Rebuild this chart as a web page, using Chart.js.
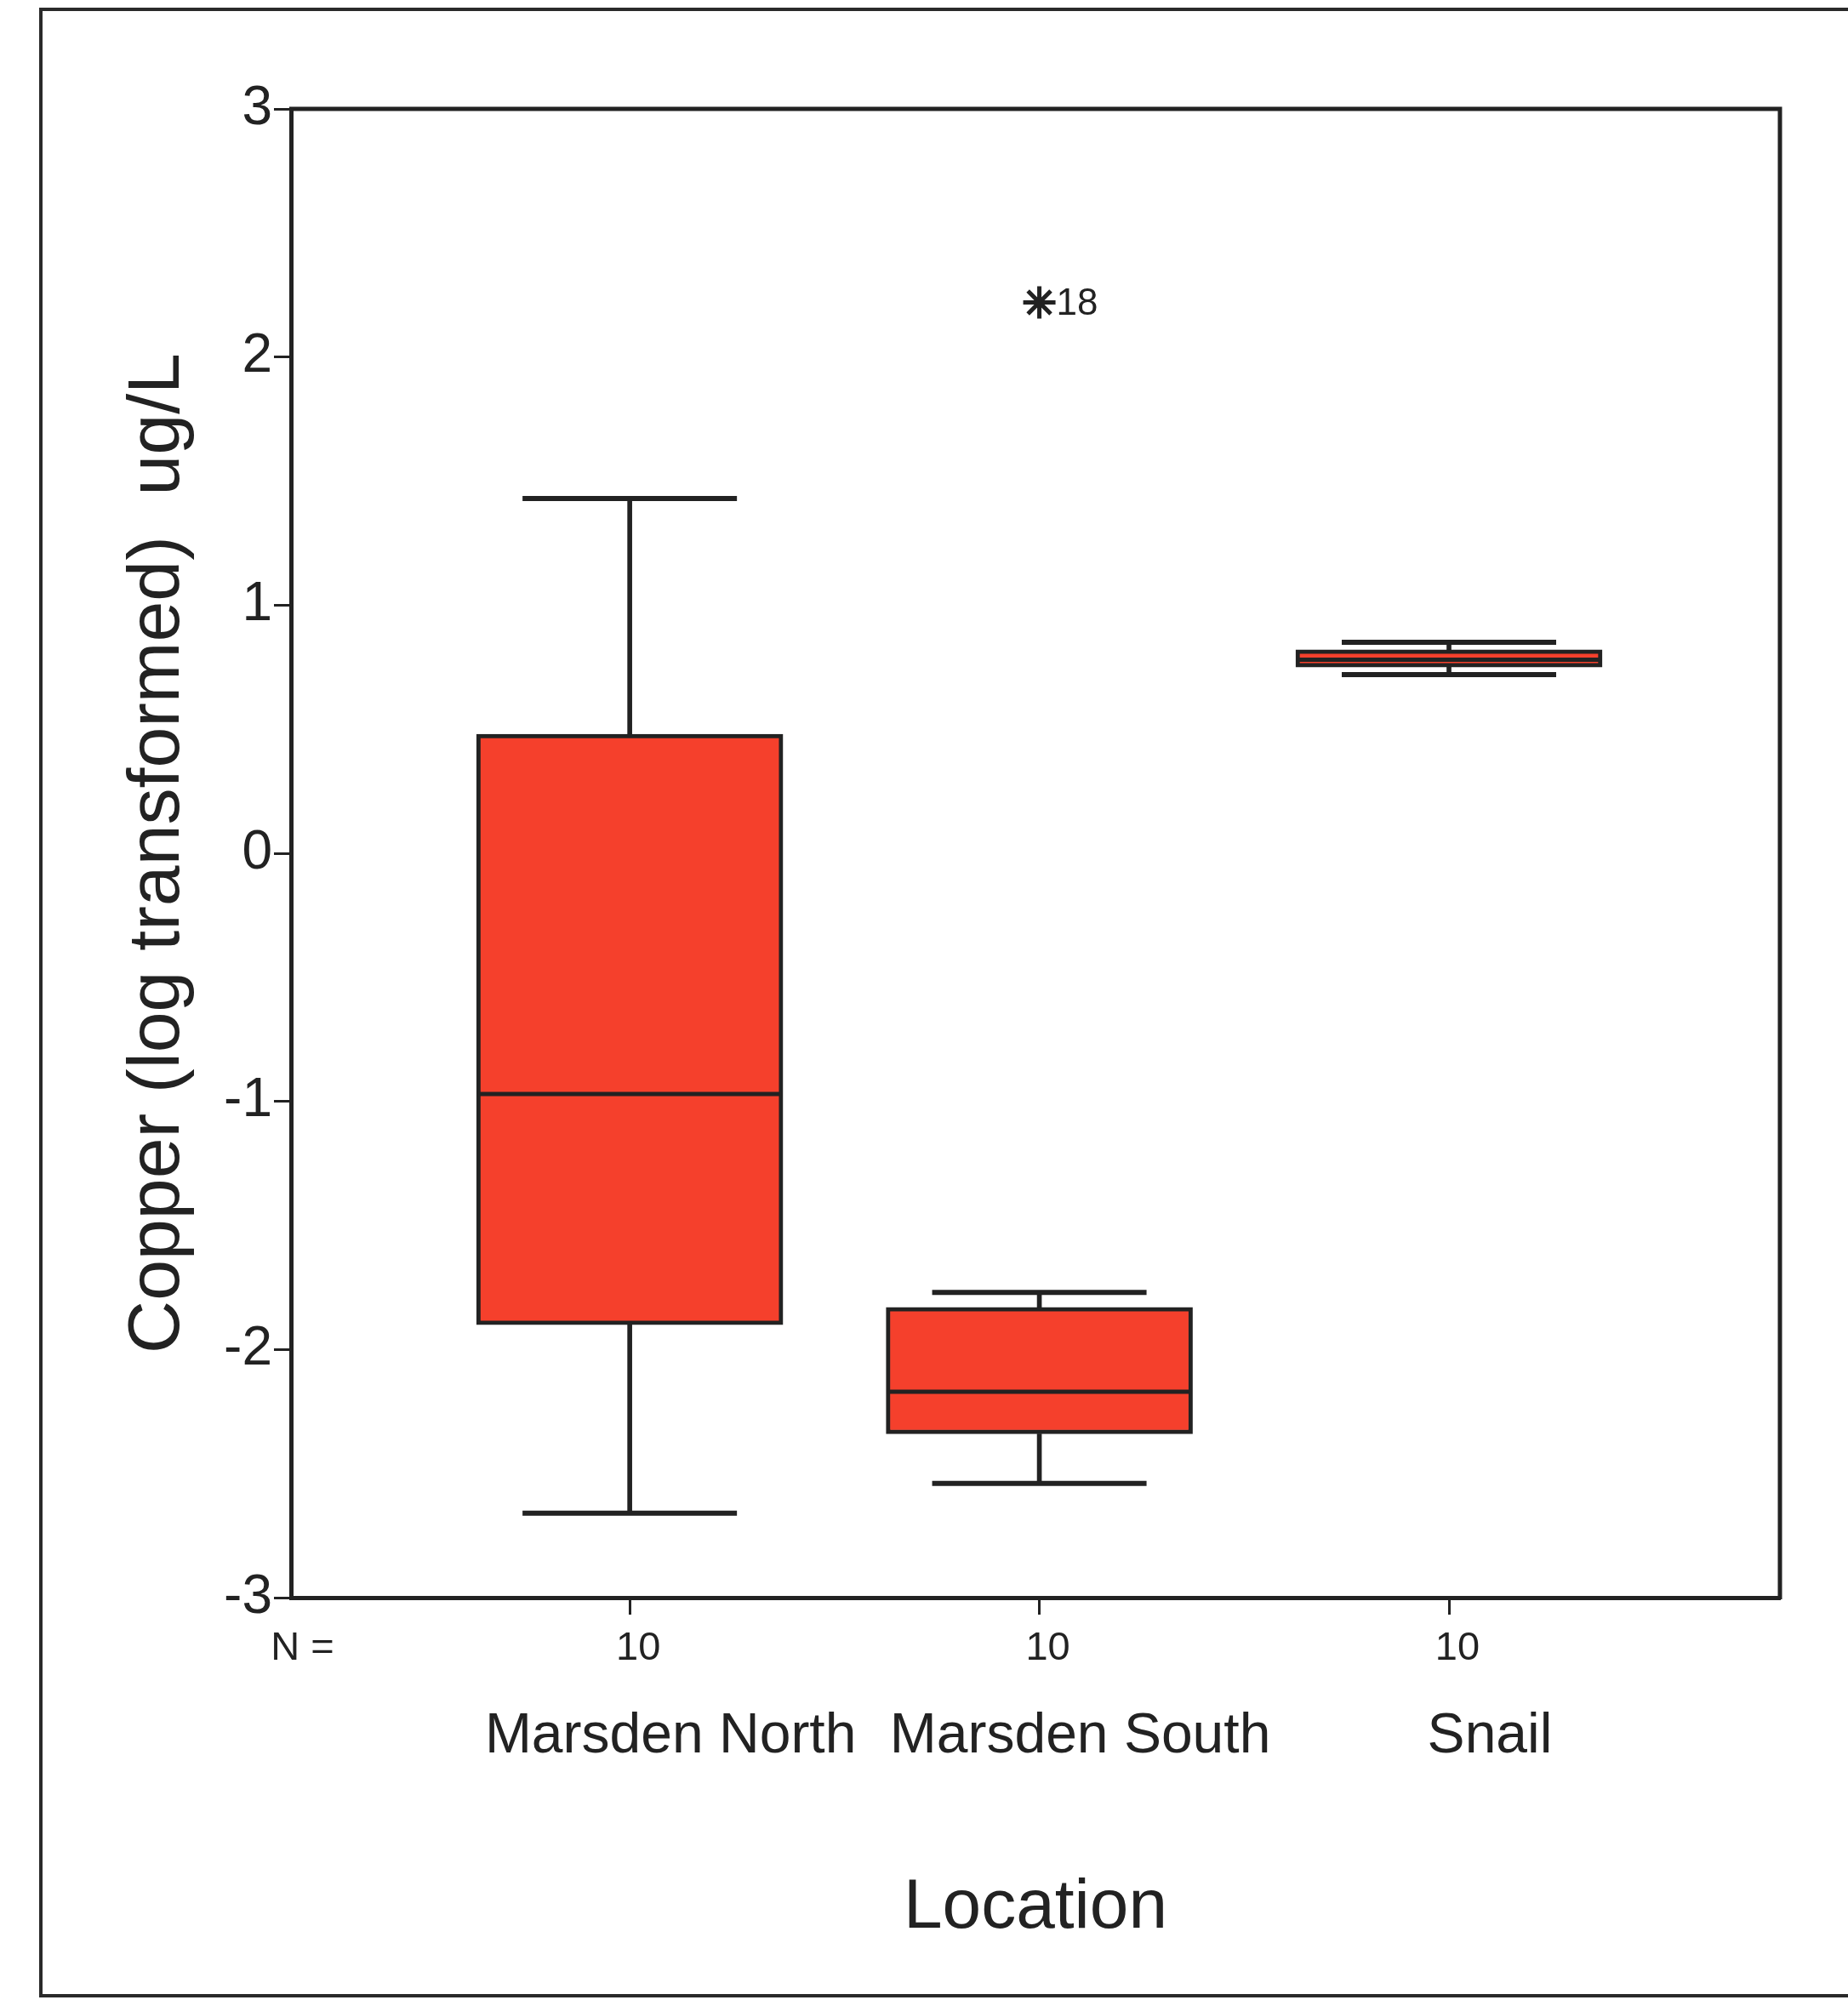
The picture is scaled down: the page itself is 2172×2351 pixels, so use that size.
<!DOCTYPE html>
<html>
<head>
<meta charset="utf-8">
<script src="https://cdn.jsdelivr.net/npm/chart.js@4.4.1/dist/chart.umd.min.js"></script>
<style>
  html, body { margin: 0; padding: 0; background: #ffffff; overflow: hidden; }
  #wrap { position: relative; width: 2172px; height: 2351px; }
  #frame { position: absolute; left: 46px; top: 9px; width: 2200px; height: 2339px; border: 4px solid #2a2a2a; box-sizing: border-box; }
  #chartBox { position: absolute; left: 0; top: 0; width: 2172px; height: 2351px; }
</style>
</head>
<body>
<div id="wrap">
  <div id="frame"></div>
  <div id="chartBox"><canvas id="c"></canvas></div>
</div>
<script>
// ---- Data ----
const categories = ['Marsden North', 'Marsden South', 'Snail'];
const nCounts = [10, 10, 10];
const whiskerMax = [1.43, -1.77, 0.85];
const q3Values = [0.48, -1.83, 0.82];
const medianValues = [-0.97, -2.17, 0.78];
const q1Values = [-1.90, -2.34, 0.75];
const whiskerMin = [-2.66, -2.54, 0.72];
const outlierCategory = [1];
const outlierValues = [2.22];
const outlierLabels = ['18'];
const yTickValues = [-3, -2, -1, 0, 1, 2, 3];

// ---- Styling ----
const INK = '#222222';
const FILL = 'rgb(245, 64, 44)';
const FONT = "'Liberation Sans', Arial, sans-serif";
const X_MIN = -0.827, X_MAX = 2.808;
const N_LABEL_POS = -0.82;
const BOX_WIDTH_PX = 360;

const idx = categories.map((_, i) => i);

const boxData = idx.map(i => ({ x: i, y: [q1Values[i], q3Values[i]] }));
const upperWhisker = idx.map(i => ({ x: i, y: [q3Values[i], whiskerMax[i]] }));
const lowerWhisker = idx.map(i => ({ x: i, y: [whiskerMin[i], q1Values[i]] }));
const capData = idx.flatMap(i => [{ x: i, y: whiskerMax[i] }, { x: i, y: whiskerMin[i] }]);
const medianData = idx.map(i => ({ x: i, y: medianValues[i] }));
const outlierData = outlierCategory.map((c, k) => ({ x: c, y: outlierValues[k] }));

// top and right edges of the plot frame
const plotFramePlugin = {
  id: 'plotFrame',
  afterDraw(chart) {
    const { ctx, chartArea: a } = chart;
    ctx.save();
    ctx.strokeStyle = INK;
    ctx.lineWidth = 5;
    ctx.beginPath();
    ctx.moveTo(a.left - 2, a.top);
    ctx.lineTo(a.right, a.top);
    ctx.lineTo(a.right, a.bottom + 2);
    ctx.stroke();
    ctx.restore();
  }
};

const outlierLabelPlugin = {
  id: 'outlierLabel',
  afterDatasetsDraw(chart) {
    const dsIndex = chart.data.datasets.findIndex(d => d.label === 'Outliers');
    if (dsIndex < 0) return;
    const meta = chart.getDatasetMeta(dsIndex);
    const ctx = chart.ctx;
    ctx.save();
    ctx.fillStyle = INK;
    ctx.font = '44px ' + FONT;
    ctx.textAlign = 'left';
    ctx.textBaseline = 'middle';
    meta.data.forEach((pt, k) => {
      ctx.fillText(outlierLabels[k], pt.x + 20, pt.y + 2);
    });
    ctx.restore();
  }
};

new Chart(document.getElementById('c'), {
  type: 'bar',
  data: {
    datasets: [
      {
        label: 'Box',
        data: boxData,
        backgroundColor: FILL,
        borderColor: INK,
        borderWidth: 5,
        borderSkipped: false,
        barThickness: BOX_WIDTH_PX,
        grouped: false,
        order: 2
      },
      {
        label: 'Upper whisker',
        data: upperWhisker,
        backgroundColor: INK,
        borderWidth: 0,
        barThickness: 5,
        grouped: false,
        order: 3
      },
      {
        label: 'Lower whisker',
        data: lowerWhisker,
        backgroundColor: INK,
        borderWidth: 0,
        barThickness: 5,
        grouped: false,
        order: 3
      },
      {
        type: 'scatter',
        label: 'Caps',
        data: capData,
        pointStyle: 'line',
        pointRadius: 126,
        pointHoverRadius: 126,
        borderColor: INK,
        borderWidth: 6,
        order: 1
      },
      {
        type: 'scatter',
        label: 'Median',
        data: medianData,
        pointStyle: 'line',
        pointRadius: BOX_WIDTH_PX / 2 - 1,
        pointHoverRadius: BOX_WIDTH_PX / 2 - 1,
        borderColor: INK,
        borderWidth: 5,
        order: 0
      },
      {
        type: 'scatter',
        label: 'Outliers',
        data: outlierData,
        pointStyle: 'star',
        pointRadius: 19,
        pointHoverRadius: 19,
        borderColor: INK,
        backgroundColor: INK,
        borderWidth: 5,
        order: 0
      }
    ]
  },
  options: {
    responsive: true,
    maintainAspectRatio: false,
    animation: false,
    events: [],
    layout: { autoPadding: false, padding: { left: 80, top: 128, right: 80, bottom: 0 } },
    plugins: { legend: { display: false }, tooltip: { enabled: false } },
    scales: {
      x: {
        type: 'linear',
        position: 'bottom',
        min: X_MIN,
        max: X_MAX,
        offset: false,
        weight: 0,
        afterBuildTicks: (scale) => {
          scale.ticks = [{ value: N_LABEL_POS }].concat(idx.map(i => ({ value: i })));
        },
        afterFit: (scale) => { scale.height = 100; },
        grid: {
          display: true,
          offset: false,
          drawOnChartArea: false,
          drawTicks: true,
          tickLength: 20,
          tickWidth: 3,
          tickColor: (ctx) => (ctx.tick && ctx.tick.value < 0) ? 'rgba(0,0,0,0)' : INK
        },
        border: { display: true, color: INK, width: 5 },
        ticks: {
          autoSkip: false,
          maxRotation: 0,
          padding: 12,
          labelOffset: 10,
          color: INK,
          font: { family: FONT, size: 47 },
          callback: (value) => value < 0 ? 'N =' : String(nCounts[Math.round(value)])
        }
      },
      xn: {
        type: 'linear',
        position: 'bottom',
        min: X_MIN,
        max: X_MAX,
        offset: false,
        weight: 1,
        afterBuildTicks: (scale) => {
          scale.ticks = idx.map(i => ({ value: i }));
        },
        afterFit: (scale) => { scale.height = 373; },
        grid: { display: false, offset: false },
        border: { display: false },
        ticks: {
          autoSkip: false,
          maxRotation: 0,
          padding: 16,
          labelOffset: 48,
          color: INK,
          font: { family: FONT, size: 66 },
          callback: (value) => categories[Math.round(value)]
        },
        title: {
          display: true,
          text: 'Location',
          color: INK,
          font: { family: FONT, size: 82 },
          padding: { top: 0, bottom: 58 }
        }
      },
      y: {
        type: 'linear',
        position: 'left',
        min: -3,
        max: 3,
        afterBuildTicks: (scale) => {
          scale.ticks = yTickValues.map(v => ({ value: v }));
        },
        afterFit: (scale) => { scale.width = 262; },
        grid: {
          display: true,
          drawOnChartArea: false,
          drawTicks: true,
          tickLength: 20,
          tickWidth: 3,
          tickColor: INK
        },
        border: { display: true, color: INK, width: 5 },
        ticks: {
          padding: 2,
          color: INK,
          font: { family: FONT, size: 64 },
          callback: (value) => String(value)
        },
        title: {
          display: true,
          text: 'Copper (log transformed)  ug/L',
          color: INK,
          font: { family: FONT, size: 86 },
          padding: { top: 55, bottom: 0 }
        }
      }
    }
  },
  plugins: [plotFramePlugin, outlierLabelPlugin]
});
</script>
</body>
</html>
